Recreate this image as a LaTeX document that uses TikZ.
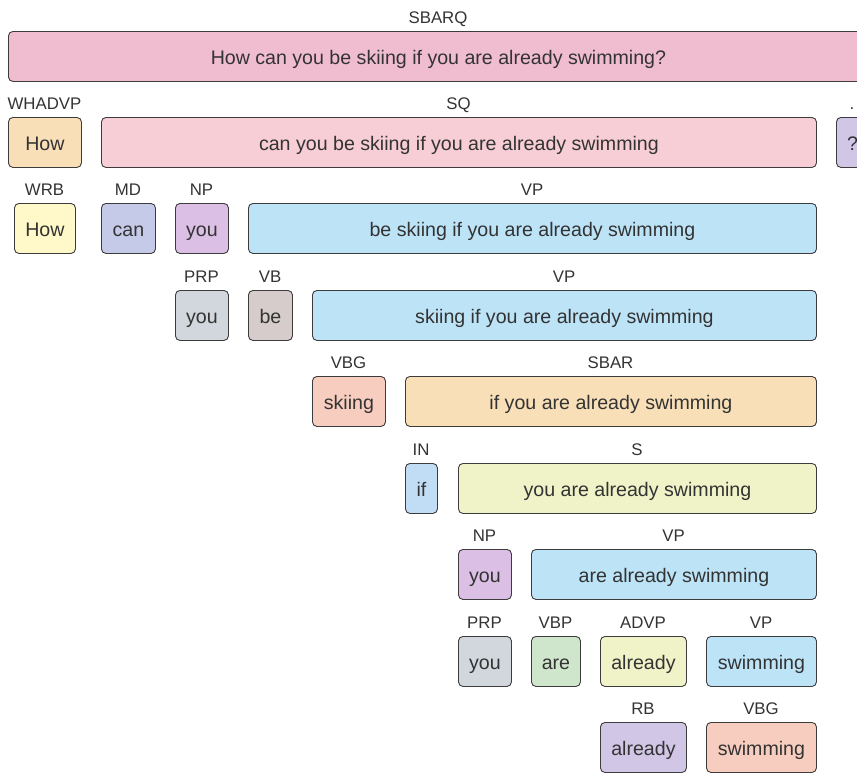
\documentclass[tikz,border=0pt]{standalone}
\usepackage{fontspec}
\setmainfont{Liberation Sans}
\definecolor{txt}{HTML}{333333}
\definecolor{edge}{HTML}{3C3C3C}
\definecolor{cSBARQ}{HTML}{F0BCCF}
\definecolor{cSQ}{HTML}{F7CDD6}
\definecolor{cWH}{HTML}{F8DFB8}
\definecolor{cPU}{HTML}{D2C6E7}
\definecolor{cWRB}{HTML}{FFF8C8}
\definecolor{cMD}{HTML}{C5CAE9}
\definecolor{cNP}{HTML}{DCBFE4}
\definecolor{cVP}{HTML}{BDE3F7}
\definecolor{cPRP}{HTML}{D1D7DC}
\definecolor{cVB}{HTML}{D6CCCB}
\definecolor{cVBG}{HTML}{F7CDBF}
\definecolor{cIN}{HTML}{C1DDF6}
\definecolor{cS}{HTML}{F0F3C8}
\definecolor{cVBP}{HTML}{CFE6CC}
\tikzset{
  bx/.style={draw=edge, rounded corners=4.5pt, line width=0.9pt, anchor=north west,
    minimum height=50pt, inner sep=0pt, text height=19.6pt, text depth=4pt,
    text=txt, font=\fontsize{19.6}{22}\selectfont},
  lbl/.style={text=txt, inner sep=0pt, anchor=base, font=\fontsize{16.8}{19}\selectfont}
}
\newcommand\treebox[7]{%
  \node[bx, fill=#5, minimum width={(#3-#2)*1pt}] (#1) at (#2,-#4) {#7};
  \node[lbl] (#1l) at ({(#2+#3)/2},{-#4+7.6}) {#6};
}
\begin{document}
\begin{tikzpicture}[x=1pt,y=1pt]
\useasboundingbox (0,0) rectangle (857,-772);
\clip (0,0) rectangle (857,-772);
% row 0
\treebox{sbarq}{8}{868}{31}{cSBARQ}{SBARQ}{How can you be skiing if you are already swimming?}
% row 1
\treebox{whadvp}{8}{81}{117}{cWH}{WHADVP}{How}
\treebox{sq}{101}{816}{117}{cSQ}{SQ}{can you be skiing if you are already swimming}
\treebox{punct}{836}{868}{117}{cPU}{.}{?}
% row 2
\treebox{wrb}{14}{75}{203}{cWRB}{WRB}{How}
\treebox{md}{101}{155}{203}{cMD}{MD}{can}
\treebox{npa}{175}{228}{203}{cNP}{NP}{you}
\treebox{vpa}{248}{816}{203}{cVP}{VP}{be skiing if you are already swimming}
% row 3
\treebox{prpa}{175}{228}{290}{cPRP}{PRP}{you}
\treebox{vb}{248}{292}{290}{cVB}{VB}{be}
\treebox{vpb}{312}{816}{290}{cVP}{VP}{skiing if you are already swimming}
% row 4
\treebox{vbga}{312}{385}{376}{cVBG}{VBG}{skiing}
\treebox{sbar}{405}{816}{376}{cWH}{SBAR}{if you are already swimming}
% row 5
\treebox{in}{405}{437}{463}{cIN}{IN}{if}
\treebox{s}{458}{816}{463}{cS}{S}{you are already swimming}
% row 6
\treebox{npb}{458}{511}{549}{cNP}{NP}{you}
\treebox{vpc}{531}{816}{549}{cVP}{VP}{are already swimming}
% row 7
\treebox{prpb}{458}{511}{636}{cPRP}{PRP}{you}
\treebox{vbp}{531}{580}{636}{cVBP}{VBP}{are}
\treebox{advp}{600}{686}{636}{cS}{ADVP}{already}
\treebox{vpd}{706}{816}{636}{cVP}{VP}{swimming}
% row 8
\treebox{rb}{600}{686}{722}{cPU}{RB}{already}
\treebox{vbgb}{706}{816}{722}{cVBG}{VBG}{swimming}
\end{tikzpicture}
\end{document}
